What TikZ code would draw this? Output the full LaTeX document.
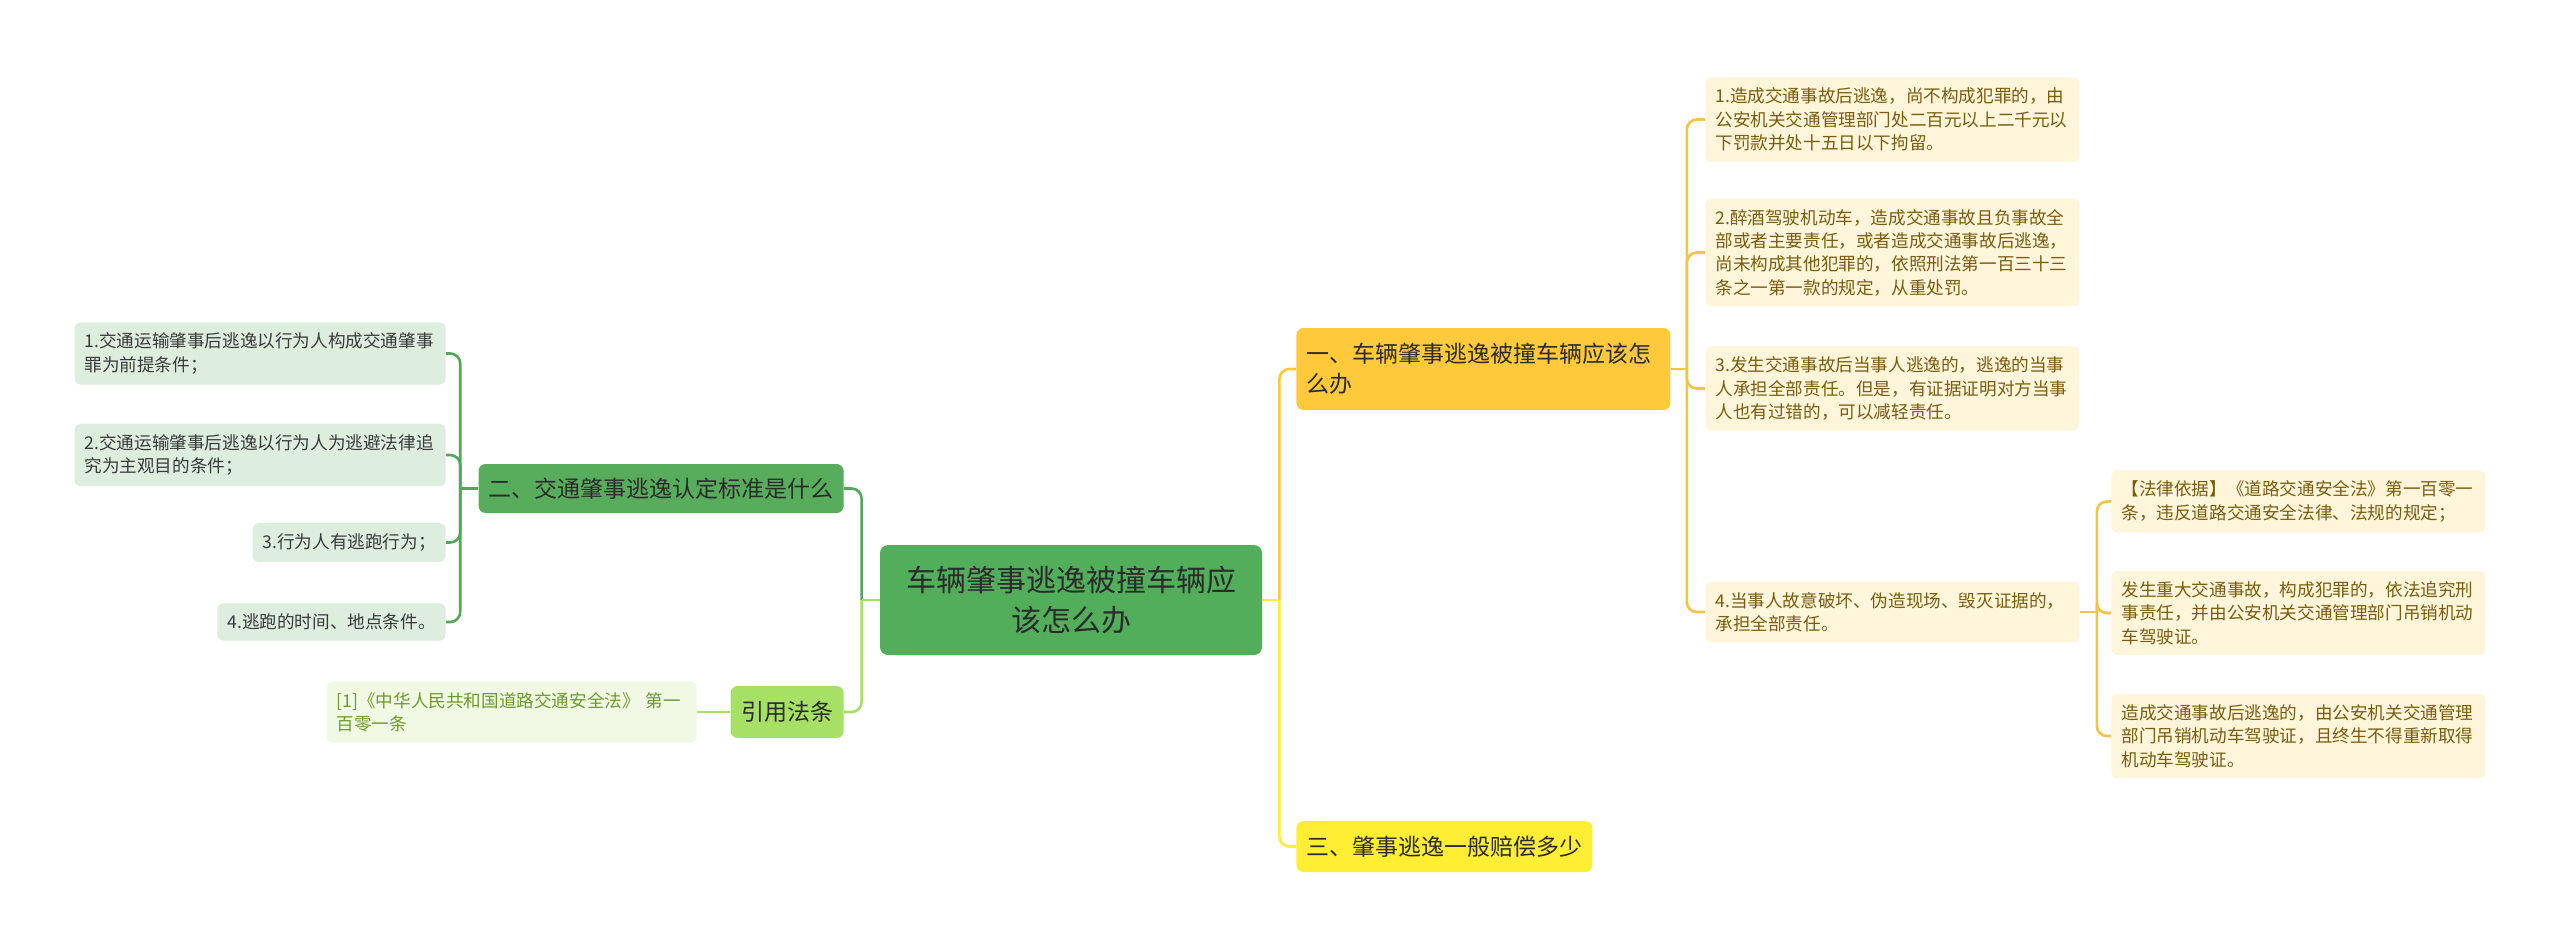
\documentclass[tikz,border=0pt]{standalone}
\usepackage{fontspec}
\setmainfont{Noto Sans CJK SC}
\usepackage{tikz}

\definecolor{cRoot}{HTML}{52AE5B}
\definecolor{cGreen}{HTML}{58AD5C}
\definecolor{cLime}{HTML}{A6E064}
\definecolor{cOrg}{HTML}{FFC93C}
\definecolor{cYel}{HTML}{FFEE33}
\definecolor{cLeafO}{HTML}{FFF5DA}
\definecolor{cLeafG}{HTML}{DDEEDF}
\definecolor{cLeafR}{HTML}{F0F9E4}
\definecolor{cInk}{HTML}{2B2B2B}
\definecolor{cInkO}{HTML}{7A5C0E}
\definecolor{cInkG}{HTML}{3A3A3A}
\definecolor{cInkR}{HTML}{6E9A2B}
\definecolor{cLineO}{HTML}{F5C447}
\definecolor{cLineG}{HTML}{55A65A}

\tikzset{
  rootbox/.style={fill=cRoot,text=cInk,rounded corners=4pt,align=center,
    minimum width=191pt,minimum height=55pt,inner sep=0pt,
    font=\fontsize{15}{20}\selectfont},
  mainbox/.style={rounded corners=3.5pt,text=cInk,inner xsep=5pt,inner ysep=0pt,
    font=\fontsize{11.5}{15}\selectfont},
  leafbox/.style={rounded corners=3pt,inner xsep=5pt,inner ysep=5.25pt,align=left,
    font=\fontsize{8.8}{11.65}\selectfont},
  leafO/.style={leafbox,fill=cLeafO,text=cInkO,text width=177pt},
  leafG/.style={leafbox,fill=cLeafG,text=cInkG},
  leafR/.style={leafbox,fill=cLeafR,text=cInkR,text width=175pt},
  link/.style={line width=1.3pt},
}

\begin{document}
\begin{tikzpicture}[x=0.5pt,y=-0.5pt]
  \fill[white] (0,0) rectangle (2560,949);
  \useasboundingbox (0,0) rectangle (2560,949);

  \node[rootbox] (root) at (1071,600) {车辆肇事逃逸被撞车辆应\\该怎么办};

  \node[mainbox,fill=cOrg,align=left,text width=177pt,minimum height=41pt,anchor=west] (b1) at (1296,369)
    {一、车辆肇事逃逸被撞车辆应该怎\\么办};
  \node[mainbox,fill=cYel,minimum height=25.5pt,anchor=west] (b3) at (1296,846.5) {三、肇事逃逸一般赔偿多少};
  \node[mainbox,fill=cGreen,minimum width=181pt,minimum height=24.5pt,anchor=east] (b2) at (844,488.5)
    {二、交通肇事逃逸认定标准是什么};
  \node[mainbox,fill=cLime,minimum width=56.5pt,minimum height=26pt,anchor=east] (cite) at (844,712) {引用法条};

  \node[leafO,anchor=west] (o1) at (1705,119.5)
    {1.造成交通事故后逃逸，尚不构成犯罪的，由\\公安机关交通管理部门处二百元以上二千元以\\下罚款并处十五日以下拘留。};
  \node[leafO,anchor=west] (o2) at (1705,252.5)
    {2.醉酒驾驶机动车，造成交通事故且负事故全\\部或者主要责任，或者造成交通事故后逃逸，\\尚未构成其他犯罪的，依照刑法第一百三十三\\条之一第一款的规定，从重处罚。};
  \node[leafO,anchor=west] (o3) at (1705,388.5)
    {3.发生交通事故后当事人逃逸的，逃逸的当事\\人承担全部责任。但是，有证据证明对方当事\\人也有过错的，可以减轻责任。};
  \node[leafO,anchor=west] (o4) at (1705,612)
    {4.当事人故意破坏、伪造现场、毁灭证据的，\\承担全部责任。};

  \node[leafO,anchor=west] (p1) at (2111,501.5)
    {【法律依据】《道路交通安全法》第一百零一\\条，违反道路交通安全法律、法规的规定；};
  \node[leafO,anchor=west] (p2) at (2111,613)
    {发生重大交通事故，构成犯罪的，依法追究刑\\事责任，并由公安机关交通管理部门吊销机动\\车驾驶证。};
  \node[leafO,anchor=west] (p3) at (2111,736)
    {造成交通事故后逃逸的，由公安机关交通管理\\部门吊销机动车驾驶证，且终生不得重新取得\\机动车驾驶证。};

  \node[leafG,text width=175.5pt,anchor=east] (g1) at (446,353.5)
    {1.交通运输肇事后逃逸以行为人构成交通肇事\\罪为前提条件；};
  \node[leafG,text width=175.5pt,anchor=east] (g2) at (446,455)
    {2.交通运输肇事后逃逸以行为人为逃避法律追\\究为主观目的条件；};
  \node[leafG,anchor=east] (g3) at (446,542.5) {3.行为人有逃跑行为；};
  \node[leafG,anchor=east] (g4) at (446,622) {4.逃跑的时间、地点条件。};

  \node[leafR,anchor=east] (ref) at (697,712)
    {[1]《中华人民共和国道路交通安全法》 第一\\百零一条};

  \path (root.east) ++(8.5pt,0) coordinate (jr);
  \path (root.west) ++(-9pt,0) coordinate (jl);
  \path (b1.east) ++(8pt,0) coordinate (jo);
  \path (o4.east) ++(8.5pt,0) coordinate (jp);
  \path (b2.west) ++(-9pt,0) coordinate (jg);

  \draw[link,cOrg,rounded corners=5pt] (jr) |- (b1.west);
  \draw[link,cYel,rounded corners=5pt] (jr) |- (b3.west);
  \draw[link,cYel] (root.east) -- (jr);

  \draw[link,cLineG,rounded corners=5pt] (jl) |- (b2.east);
  \draw[link,cLime,rounded corners=5pt] (jl) |- (cite.east);
  \draw[link,cLime] (root.west) -- (jl);

  \draw[link,cLineO] (b1.east) -- (jo);
  \foreach \c in {o1,o2,o3,o4}{\draw[link,cLineO,rounded corners=5pt] (jo) |- (\c.west);}
  \draw[link,cLineO] (o4.east) -- (jp);
  \foreach \c in {p1,p2,p3}{\draw[link,cLineO,rounded corners=5pt] (jp) |- (\c.west);}

  \draw[link,cLineG] (b2.west) -- (jg);
  \foreach \c in {g1,g2,g3,g4}{\draw[link,cLineG,rounded corners=5pt] (jg) |- (\c.east);}

  \draw[link,cLime] (cite.west) -- (ref.east);
\end{tikzpicture}
\end{document}
